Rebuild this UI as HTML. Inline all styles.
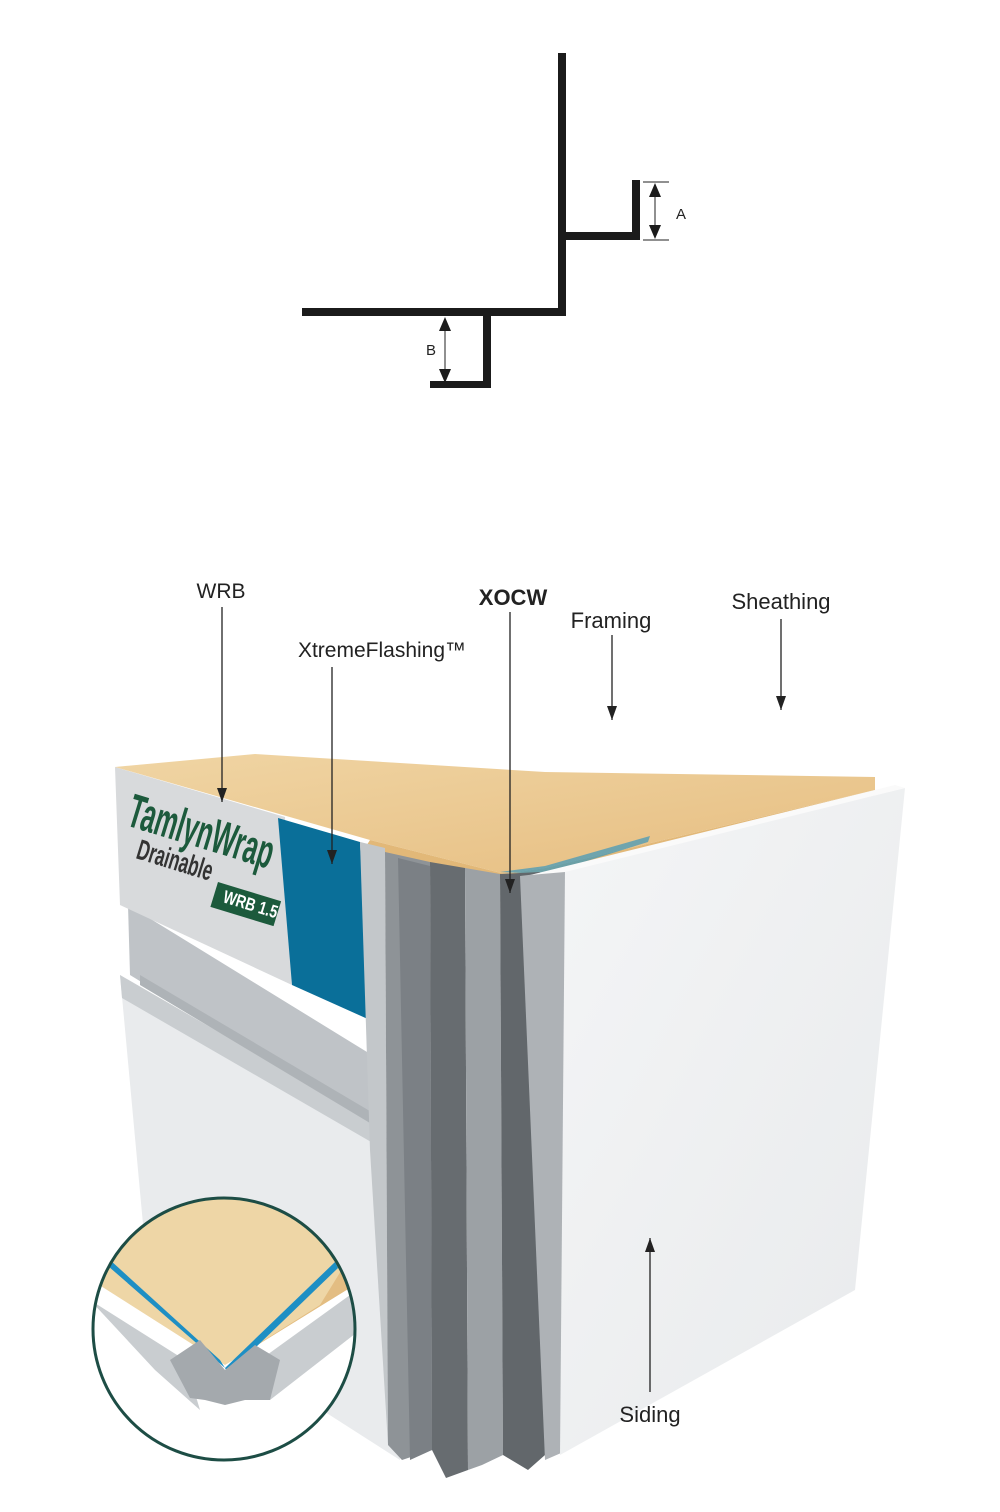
<!DOCTYPE html>
<html><head><meta charset="utf-8"><style>
html,body{margin:0;padding:0;background:#fff}
svg{display:block}
text{font-family:"Liberation Sans",sans-serif;fill:#222}
</style></head><body>
<svg width="1000" height="1512" viewBox="0 0 1000 1512" xmlns="http://www.w3.org/2000/svg">
<defs>
<marker id="ah" markerWidth="14" markerHeight="10" refX="14" refY="5" orient="auto" markerUnits="userSpaceOnUse">
<path d="M0,0 L14,5 L0,10 Z" fill="#222"/></marker>
<linearGradient id="wood" x1="0" y1="0" x2="1" y2="1"><stop offset="0" stop-color="#f0d5a4"/><stop offset="1" stop-color="#e6bd80"/></linearGradient>
<linearGradient id="sid" x1="0" y1="0" x2="1" y2="1"><stop offset="0" stop-color="#f4f5f6"/><stop offset="1" stop-color="#e8eaec"/></linearGradient>
<clipPath id="cc"><circle cx="224" cy="1329" r="131"/></clipPath>
<clipPath id="wc"><polygon points="115,767 285,817 292,985 120,905"/></clipPath>
</defs>

<!-- top profile -->
<g fill="#1b1b1b">
<rect x="558" y="53" width="8" height="262"/>
<rect x="302" y="308" width="264" height="8"/>
<rect x="562" y="232" width="78" height="8"/>
<rect x="632" y="180" width="8" height="60"/>
<rect x="483" y="312" width="8" height="76"/>
<rect x="430" y="381" width="61" height="7"/>
</g>
<g stroke="#222" stroke-width="1">
<line x1="643" y1="182" x2="669" y2="182"/><line x1="643" y1="240" x2="669" y2="240"/>
<line x1="655" y1="196" x2="655" y2="226"/>
<line x1="445" y1="330" x2="445" y2="370"/>
</g>
<path d="M655,183 l-6,14 h12z M655,239 l-6,-14 h12z M445,317 l-6,14 h12z M445,383 l-6,-14 h12z" fill="#1b1b1b"/>
<text x="676" y="219" font-size="15">A</text>
<text x="426" y="355" font-size="15">B</text>

<!-- left lower siding -->
<polygon points="120,975 385,1140 400,1460 150,1300" fill="#e9ebed"/>
<polygon points="120,975 385,1128 385,1150 122,998" fill="#c9cdd0"/>
<polygon points="128,905 380,1060 383,1130 130,975" fill="#bfc3c7"/>
<polygon points="140,975 385,1120 385,1132 140,985" fill="#aeb3b7"/>
<!-- WRB face -->
<polygon points="115,767 285,817 292,985 120,905" fill="#d8dadc"/>
<g clip-path="url(#wc)">
<text x="0" y="0" font-size="34" font-weight="bold" textLength="150" lengthAdjust="spacingAndGlyphs" transform="translate(125,825) rotate(17) scale(1,1.4)" style="fill:#1c5a3c">TamlynWrap</text>
<text x="0" y="0" font-size="22" font-weight="bold" textLength="78" lengthAdjust="spacingAndGlyphs" transform="translate(135,858) rotate(17) scale(1,1.3)" style="fill:#333">Drainable</text>
<rect x="0" y="0" width="66" height="26" fill="#1c5a3c" transform="translate(218,882) rotate(17)"/>
<text x="0" y="0" font-size="18" font-weight="bold" textLength="56" lengthAdjust="spacingAndGlyphs" transform="translate(222,902) rotate(17)" style="fill:#fff">WRB 1.5</text>
</g>
<!-- blue -->
<polygon points="278,818 360,842 370,1020 292,985" fill="#0a6f99"/>
<polygon points="360,842 380,848 385,1140 370,1020" fill="#b8bcc0"/>

<!-- wood top -->
<polygon points="115,767 255,754 545,772 875,777 875,790 545,868 505,874 370,840" fill="url(#wood)"/>
<polygon points="370,840 505,874 545,868 875,790 875,797 545,876 505,880 365,848" fill="#e2b878"/>
<polygon points="500,872 545,866 650,836 648,842 545,874" fill="#1e8fc4" opacity="0.6"/>

<!-- XOCW profiles -->
<polygon points="360,842 385,848 388,1445 370,1150" fill="#c3c7ca"/>
<polygon points="385,852 430,862 432,1450 402,1460 388,1445" fill="#8e9397"/>
<polygon points="398,858 430,866 432,1450 410,1460" fill="#7b8085"/>
<polygon points="430,862 465,868 468,1470 446,1478 432,1450" fill="#676c70"/>
<polygon points="465,868 500,874 503,1455 482,1465 468,1470" fill="#9ca1a5"/>
<polygon points="500,874 540,872 545,1455 528,1470 503,1455" fill="#62676b"/>
<polygon points="520,876 570,870 568,1450 545,1460" fill="#aeb2b6"/>
<!-- right siding -->
<polygon points="565,870 905,788 855,1290 560,1455" fill="url(#sid)"/>
<polygon points="530,875 895,785 905,788 565,872" fill="#fafafa"/>

<!-- inset circle -->
<circle cx="224" cy="1329" r="131" fill="#fff"/>
<g clip-path="url(#cc)">
<polygon points="60,1180 395,1180 395,1260 225,1365 60,1260" fill="#eed6a6"/>
<polygon points="225,1365 320,1305 360,1240 395,1220 395,1260" fill="#e3bd82"/>
<polygon points="110,1260 220,1360 225,1368 108,1266" fill="#1e8fc4"/>
<polygon points="225,1368 335,1262 338,1268 228,1374" fill="#1e8fc4"/>
<polygon points="90,1300 185,1360 200,1410 155,1370" fill="#c9cdd0"/>
<polygon points="260,1360 350,1295 360,1330 270,1400" fill="#c9cdd0"/>
<polygon points="170,1360 200,1340 225,1370 255,1345 280,1360 270,1400 245,1400 225,1405 205,1400 190,1398" fill="#a4a9ad"/>
</g>
<circle cx="224" cy="1329" r="131" fill="none" stroke="#1d4d45" stroke-width="3"/>

<!-- labels & arrows -->
<g stroke="#222" stroke-width="1.3">
<line x1="222" y1="607" x2="222" y2="802" marker-end="url(#ah)"/>
<line x1="332" y1="667" x2="332" y2="864" marker-end="url(#ah)"/>
<line x1="510" y1="612" x2="510" y2="893" marker-end="url(#ah)"/>
<line x1="612" y1="635" x2="612" y2="720" marker-end="url(#ah)"/>
<line x1="781" y1="619" x2="781" y2="710" marker-end="url(#ah)"/>
<line x1="650" y1="1392" x2="650" y2="1238" marker-end="url(#ah)"/>
</g>
<text x="221" y="598" font-size="21" text-anchor="middle">WRB</text>
<text x="382" y="657" font-size="21" text-anchor="middle">XtremeFlashing™</text>
<text x="513" y="605" font-size="22" font-weight="bold" text-anchor="middle">XOCW</text>
<text x="611" y="628" font-size="22" text-anchor="middle">Framing</text>
<text x="781" y="609" font-size="22" text-anchor="middle">Sheathing</text>
<text x="650" y="1422" font-size="22" text-anchor="middle">Siding</text>
</svg>
</body></html>
